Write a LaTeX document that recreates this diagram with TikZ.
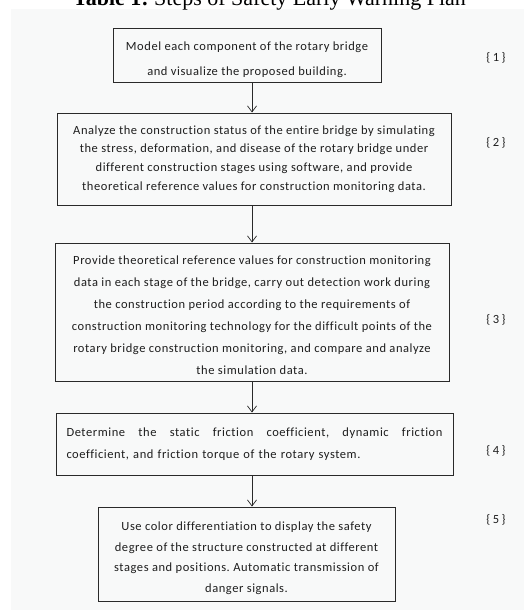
\documentclass[tikz,border=0pt]{standalone}
\usepackage{fontspec}
\setmainfont{Carlito}[LetterSpace=4.5, Ligatures=NoCommon]
\newfontfamily\titlefont{Liberation Serif}
\newfontfamily\labelfont{Carlito}
\usetikzlibrary{arrows.meta}
\definecolor{bggray}{HTML}{F8F9F9}
\definecolor{ink}{HTML}{1E1E1E}
\definecolor{lineink}{HTML}{2A2A2A}
\frenchspacing
\tikzset{
  stepbox/.style={draw=lineink, line width=1pt, inner sep=0pt, align=center,
    font=\fontsize{12.5}{18.7}\selectfont, text=ink},
  steplabel/.style={font=\labelfont\fontsize{12.5}{13}\selectfont, text=ink, inner sep=0pt},
  arr/.style={draw=lineink, line width=0.7pt, -{Straight Barb[length=6pt,width=9pt,line width=0.7pt]}}
}
\begin{document}
\begin{tikzpicture}[x=1pt,y=-1pt]
\useasboundingbox (0,0) rectangle (524,610);
\fill[bggray] (11,9) rectangle (524,610);
\node[anchor=base, font=\titlefont\fontsize{22}{25}\selectfont, text=black, inner sep=0pt] (title) at (269.5,6) {\textbf{Table 1:} Steps of Safety Early Warning Plan};

\node[stepbox, minimum width=268pt, minimum height=53pt, font=\fontsize{12.5}{25}\selectfont] (b1) at (247,55.5)
  {\rule{0pt}{17pt}Model each component of the rotary bridge\\ and visualize the proposed building.};
\node[stepbox, minimum width=394pt, minimum height=92pt] (b2) at (254,159)
  {Analyze the construction status of the entire bridge by simulating\\
   the stress, deformation, and disease of the rotary bridge under\\
   different construction stages using software, and provide\\
   theoretical reference values for construction monitoring data.};
\node[stepbox, minimum width=394pt, minimum height=138pt, font=\fontsize{12.5}{22}\selectfont] (b3) at (252,312)
  {\rule{0pt}{15pt}Provide theoretical reference values for construction monitoring\\
   data in each stage of the bridge, carry out detection work during\\
   the construction period according to the requirements of\\
   construction monitoring technology for the difficult points of the\\
   rotary bridge construction monitoring, and compare and analyze\\
   the simulation data.};
\node[stepbox, minimum width=397pt, minimum height=62pt, text width=376pt, align=left, font=\fontsize{12.5}{22}\selectfont] (b4) at (254.5,444)
  {\hbox to 376pt{Determine\hfill the\hfill static\hfill friction\hfill coefficient,\hfill dynamic\hfill friction}\\
   coefficient, and friction torque of the rotary system.};
\node[stepbox, minimum width=297pt, minimum height=94pt, font=\fontsize{12.5}{20.8}\selectfont] (b5) at (246.5,554)
  {\rule{0pt}{17pt}Use color differentiation to display the safety\\
   degree of the structure constructed at different\\
   stages and positions. Automatic transmission of\\
   danger signals.};

\node[steplabel] (l1) at (496,58) {\{\hspace{2.5pt}1\hspace{2.5pt}\}};
\node[steplabel] (l2) at (496,143) {\{\hspace{2.5pt}2\hspace{2.5pt}\}};
\node[steplabel] (l3) at (496,320) {\{\hspace{2.5pt}3\hspace{2.5pt}\}};
\node[steplabel] (l4) at (496,451) {\{\hspace{2.5pt}4\hspace{2.5pt}\}};
\node[steplabel] (l5) at (496,520) {\{\hspace{2.5pt}5\hspace{2.5pt}\}};

\coordinate (ax) at (252,0);
\draw[arr] (b1.south -| ax) -- (b2.north -| ax);
\draw[arr] (b2.south -| ax) -- (b3.north -| ax);
\draw[arr] (b3.south -| ax) -- (b4.north -| ax);
\draw[arr] (b4.south -| ax) -- (b5.north -| ax);
\end{tikzpicture}
\end{document}
